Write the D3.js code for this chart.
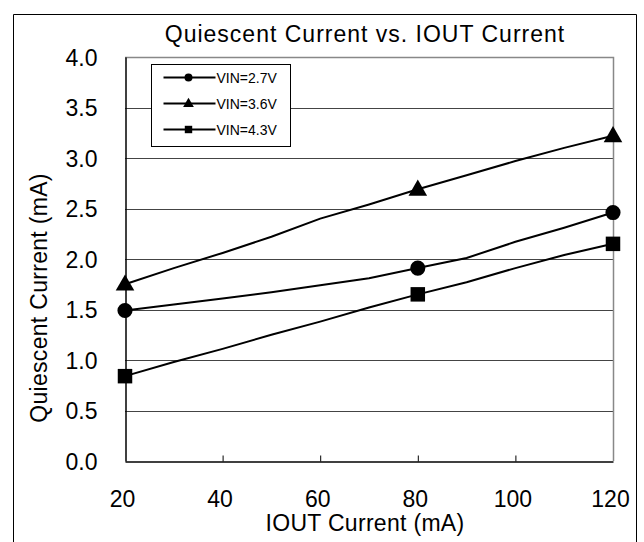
<!DOCTYPE html>
<html><head><meta charset="utf-8">
<script src="https://cdn.jsdelivr.net/npm/d3@7"></script>
<style>body{margin:0;background:#fff}svg{display:block;font-family:"Liberation Sans",Arial,sans-serif}</style>
</head><body><div id="chart"></div>
<script>
const iout = [20, 30, 40, 50, 60, 70, 80, 90, 100, 110, 120];
const vin27 = [1.49, 1.55, 1.61, 1.67, 1.74, 1.81, 1.91, 2.01, 2.17, 2.31, 2.46];
const vin36 = [1.75, 1.91, 2.06, 2.22, 2.40, 2.54, 2.69, 2.83, 2.97, 3.10, 3.22];
const vin43 = [0.84, 0.98, 1.11, 1.25, 1.38, 1.52, 1.65, 1.77, 1.91, 2.04, 2.15];
const markerIout = [20, 80, 120];
const seriesNames = ["VIN=2.7V", "VIN=3.6V", "VIN=4.3V"];
const seriesSymbols = ["circle", "triangle", "square"];
const xTicks = [20, 40, 60, 80, 100, 120];
const yTicks = [0, 0.5, 1, 1.5, 2, 2.5, 3, 3.5, 4];
const title = "Quiescent Current vs. IOUT Current";
const xTitle = "IOUT Current (mA)";
const yTitle = "Quiescent Current (mA)";

const W = 644, H = 542;
const m = {l: 125, r: 31, t: 57, b: 81};
const svg = d3.select("#chart").append("svg").attr("width", W).attr("height", H);

// outer frame (no bottom edge)
svg.append("path").attr("d", `M13.5,${H} V14.5 H636.5 V${H}`)
  .attr("fill", "none").attr("stroke", "#000").attr("stroke-width", 1);

const x = d3.scaleLinear().domain([20, 120]).range([m.l, W - m.r]);
const y = d3.scaleLinear().domain([0, 4]).range([H - m.b, m.t]);

// gridlines
svg.append("g").selectAll("line").data(yTicks.filter(d => d > 0 && d < 4)).join("line")
  .attr("x1", x(20)).attr("x2", x(120))
  .attr("y1", d => Math.round(y(d)) + 0.5).attr("y2", d => Math.round(y(d)) + 0.5)
  .attr("stroke", "#444").attr("stroke-width", 1);

// top & right border (gray)
svg.append("path")
  .attr("d", `M${x(20)},${Math.round(y(4)) + 0.5} H${Math.round(x(120)) + 0.5} V${y(0)}`)
  .attr("fill", "none").attr("stroke", "#888").attr("stroke-width", 1.5);

// x axis
const xAxis = d3.axisBottom(x).tickValues(xTicks).tickSize(0).tickPadding(0).tickFormat(d3.format("d"));
const gx = svg.append("g").attr("transform", `translate(0,${Math.round(y(0)) + 0.5})`).call(xAxis);
gx.select(".domain").attr("stroke", "#000").attr("stroke-width", 1.5);
gx.selectAll(".tick text").attr("dy", 0).attr("y", 45).attr("dx", -3)
  .attr("font-size", 23).attr("fill", "#000").attr("font-family", "Liberation Sans, Arial, sans-serif");
gx.selectAll(".tick").filter(d => d > 20 && d < 120).append("line")
  .attr("y1", 0).attr("y2", -6).attr("stroke", "#000").attr("stroke-width", 1);

// y axis
const yAxis = d3.axisLeft(y).tickValues(yTicks).tickSize(0).tickPadding(0).tickFormat(d3.format(".1f"));
const gy = svg.append("g").attr("transform", `translate(${Math.round(x(20)) + 0.5},0)`).call(yAxis);
gy.select(".domain").attr("stroke", "#000").attr("stroke-width", 1.5);
gy.selectAll(".tick text").attr("x", -28).attr("dy", "0.36em")
  .attr("font-size", 23).attr("fill", "#000").attr("font-family", "Liberation Sans, Arial, sans-serif");

// lines
const data = [vin27, vin36, vin43].map((vals, i) => ({
  name: seriesNames[i], sym: seriesSymbols[i],
  pts: iout.map((xv, j) => ({x: xv, y: vals[j]}))
}));
const line = d3.line().x(d => x(d.x)).y(d => y(d.y));
svg.append("g").selectAll("path").data(data).join("path")
  .attr("d", d => line(d.pts)).attr("fill", "none").attr("stroke", "#000").attr("stroke-width", 2);

const symType = {circle: d3.symbolCircle, triangle: d3.symbolTriangle, square: d3.symbolSquare};
const symSize = {circle: 180, triangle: 150, square: 210};
data.forEach(s => {
  svg.append("g").selectAll("path").data(s.pts.filter(p => markerIout.includes(p.x))).join("path")
    .attr("transform", p => `translate(${x(p.x)},${y(p.y) + (s.sym === "triangle" ? 1 : 0)})`)
    .attr("d", d3.symbol().type(symType[s.sym]).size(symSize[s.sym]))
    .attr("fill", "#000");
});

// legend
const lg = svg.append("g").attr("transform", "translate(151.5,64.5)");
lg.append("rect").attr("width", 139).attr("height", 82).attr("fill", "#fff").attr("stroke", "#000").attr("stroke-width", 1);
data.forEach((s, i) => {
  const yy = 13 + i * 26;
  lg.append("line").attr("x1", 12).attr("x2", 64).attr("y1", yy).attr("y2", yy)
    .attr("stroke", "#000").attr("stroke-width", 2);
  lg.append("path").attr("transform", `translate(37,${yy + (s.sym === "triangle" ? 0.5 : 0)})`)
    .attr("d", d3.symbol().type(symType[s.sym]).size(s.sym === "circle" ? 50 : s.sym === "triangle" ? 50 : 55))
    .attr("fill", "#000");
  lg.append("text").attr("x", 65).attr("y", yy).attr("dy", "0.36em")
    .attr("font-size", 14).attr("fill", "#000").text(s.name);
});

// titles
svg.append("text").attr("x", 365).attr("y", 42).attr("text-anchor", "middle")
  .attr("font-size", 23).attr("letter-spacing", 1.0).attr("fill", "#000").text(title);
svg.append("text").attr("x", 365).attr("y", 531).attr("text-anchor", "middle")
  .attr("font-size", 23).attr("letter-spacing", 0.3).attr("fill", "#000").text(xTitle);
svg.append("text").attr("transform", "translate(47,298) rotate(-90)").attr("text-anchor", "middle")
  .attr("font-size", 23).attr("letter-spacing", 0.3).attr("fill", "#000").text(yTitle);
</script></body></html>
